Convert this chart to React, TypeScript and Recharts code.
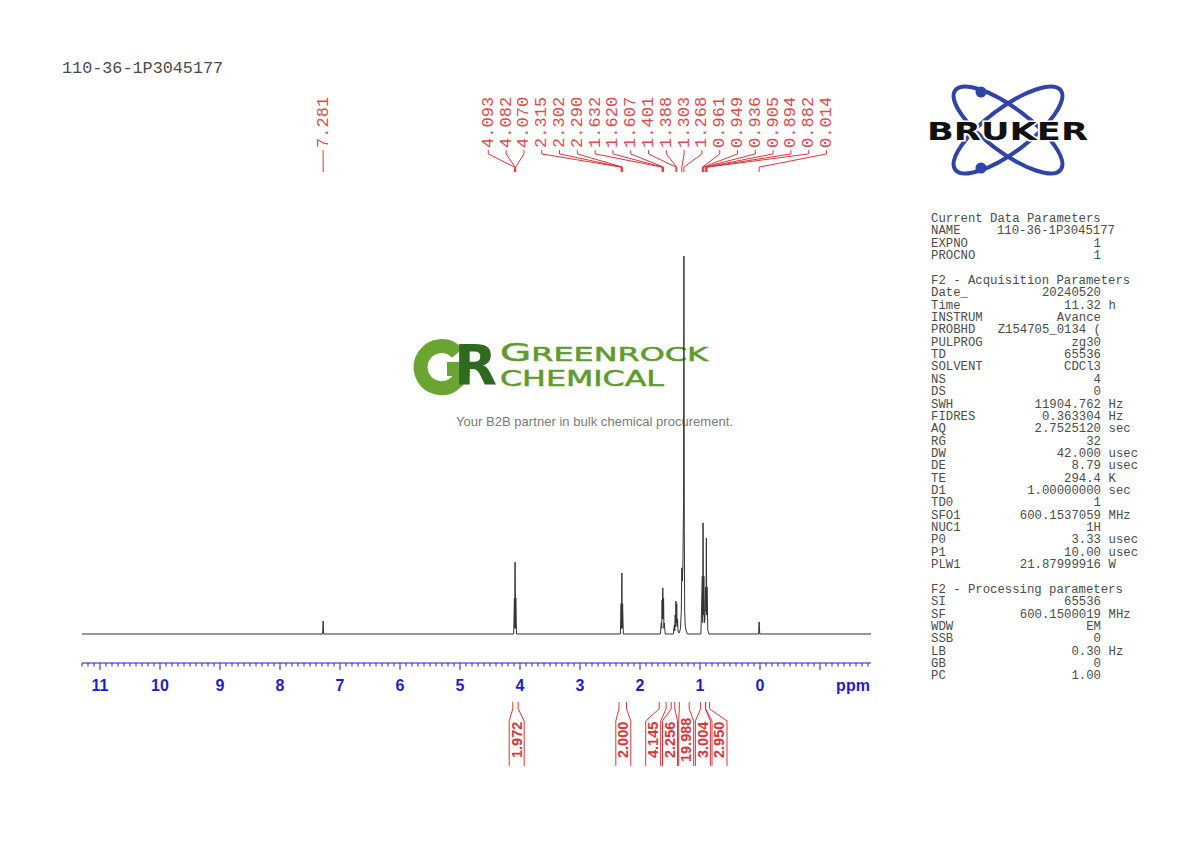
import React from 'react';
import { LineChart, Line, XAxis, YAxis, ReferenceLine, ReferenceDot } from 'recharts';

// spectrum: [ppm, relative intensity] (tallest line = 100)
const spectrum: [number, number][] = [
  [11.3, 0],
  [7.29, 0], [7.281, 3.4], [7.272, 0],
  [4.105, 0], [4.093, 9.5], [4.088, 1.5], [4.082, 19.0], [4.076, 1.5], [4.07, 9.5], [4.058, 0],
  [2.327, 0], [2.315, 8.0], [2.309, 1.5], [2.302, 16.1], [2.296, 1.5], [2.29, 8.0], [2.278, 0],
  [1.66, 0], [1.645, 3.0], [1.638, 1.5], [1.632, 9.0], [1.626, 4.0], [1.62, 12.2], [1.614, 4.0],
  [1.607, 9.5], [1.601, 1.5], [1.595, 2.9], [1.58, 0],
  [1.445, 0], [1.427, 2.4], [1.42, 0.8], [1.414, 5.0], [1.407, 2.0], [1.401, 8.7], [1.394, 3.0],
  [1.388, 8.0], [1.382, 2.0], [1.375, 4.0], [1.365, 0.5],
  [1.345, 0.3], [1.325, 1.5], [1.312, 6.0], [1.303, 17.5], [1.295, 14.0], [1.285, 18.0], [1.274, 35.0],
  [1.268, 100], [1.262, 28.0], [1.255, 6.0], [1.245, 2.0], [1.23, 0.8], [1.21, 0],
  [0.985, 0], [0.961, 15.3], [0.955, 3.0], [0.949, 29.4], [0.943, 5.0], [0.936, 15.3], [0.925, 3.0],
  [0.918, 4.0], [0.905, 12.4], [0.9, 6.0], [0.894, 25.4], [0.888, 5.0], [0.882, 12.4], [0.87, 1.0],
  [0.85, 0],
  [0.024, 0], [0.014, 3.2], [0.004, 0],
  [-1.85, 0],
];

const peakLabels = [
  7.281, 4.093, 4.082, 4.07, 2.315, 2.302, 2.29, 1.632, 1.62, 1.607, 1.401, 1.388,
  1.303, 1.268, 0.961, 0.949, 0.936, 0.905, 0.894, 0.882, 0.014,
];

const integralValues = ['1.972', '2.000', '4.145', '2.256', '19.988', '3.004', '2.950'];
const integralFrom = [4.12, 2.35, 1.68, 1.48, 1.345, 0.99, 0.905];
const integralTo = [4.03, 2.225, 1.565, 1.42, 1.18, 0.91, 0.84];
const integralAt = [4.055, 2.278, 1.78, 1.5, 1.23, 0.952, 0.675];

const ppmTicks = Array.from({ length: 132 }, (_, i) => Math.round((11.3 - i * 0.1) * 10) / 10);

const currentParams = [
  ['NAME', '110-36-1P3045177', ''],
  ['EXPNO', '1', ''],
  ['PROCNO', '1', ''],
];
const acqParams = [
  ['Date_', '20240520', ''], ['Time', '11.32', 'h'], ['INSTRUM', 'Avance', ''],
  ['PROBHD', 'Z154705_0134 (', ''], ['PULPROG', 'zg30', ''], ['TD', '65536', ''],
  ['SOLVENT', 'CDCl3', ''], ['NS', '4', ''], ['DS', '0', ''], ['SWH', '11904.762', 'Hz'],
  ['FIDRES', '0.363304', 'Hz'], ['AQ', '2.7525120', 'sec'], ['RG', '32', ''],
  ['DW', '42.000', 'usec'], ['DE', '8.79', 'usec'], ['TE', '294.4', 'K'],
  ['D1', '1.00000000', 'sec'], ['TD0', '1', ''], ['SFO1', '600.1537059', 'MHz'],
  ['NUC1', '1H', ''], ['P0', '3.33', 'usec'], ['P1', '10.00', 'usec'], ['PLW1', '21.87999916', 'W'],
];
const procParams = [
  ['SI', '65536', ''], ['SF', '600.1500019', 'MHz'], ['WDW', 'EM', ''], ['SSB', '0', ''],
  ['LB', '0.30', 'Hz'], ['GB', '0', ''], ['PC', '1.00', ''],
];

const RED = '#d8363a';
const LABEL_RED = '#e04a4c';
const BLUE = '#1e1ec8';
const MONO = "'Liberation Mono', 'Courier New', monospace";
const SANS = "'Liberation Sans', Arial, sans-serif";

// annotation levels, in intensity units
const TXT_TOP = 128.6;
const STUB_A = 128.0;
const STUB_B = 127.0;
const DIAG_END = 123.5;
const PEAK_END = 122.2;
const INT_A = -18.0;
const INT_B = -19.8;
const INT_C = -23.0;
const INT_D = -34.9;
const INT_TXT = -28.0;
const SLOT_START = 4.528;
const SLOT_STEP = 0.2967;
const HALF = 0.125;

const data = spectrum.map(([ppm, v]) => ({ ppm, v }));

const AxisTick = (props: any) => {
  const { x, y, payload } = props;
  const v = payload.value;
  const major = Math.abs(v - Math.round(v)) < 1e-6;
  const showLabel = major && v >= 0;
  return (
    <g>
      <line x1={x} x2={x} y1={y} y2={y + (major ? 7 : 3.5)} stroke={BLUE} strokeWidth={1} />
      {showLabel && (
        <text x={x} y={y + 28} textAnchor="middle" fill={BLUE} fontFamily={SANS} fontWeight="bold" fontSize={16}>
          {Math.round(v)}
        </text>
      )}
    </g>
  );
};

const slotOf = (i: number) => (i === 0 ? peakLabels[0] : SLOT_START - (i - 1) * SLOT_STEP);

function ParamBlock({ title, rows, y0 }: { title: string; rows: string[][]; y0: number }) {
  const lh = 12.35;
  return (
    <g fontFamily={MONO} fontSize={12.3} fill="#4c4c4c">
      <text x={931} y={y0}>{title}</text>
      {rows.map((r, i) => (
        <g key={r[0]}>
          <text x={931} y={y0 + (i + 1) * lh}>{r[0]}</text>
          <text x={r[0] === 'NAME' ? 1115 : 1101} y={y0 + (i + 1) * lh} textAnchor="end" style={{ whiteSpace: 'pre' }}>
            {r[1]}
          </text>
          {r[2] && <text x={1108.5} y={y0 + (i + 1) * lh}>{r[2]}</text>}
        </g>
      ))}
    </g>
  );
}

function Decor() {
  return (
    <svg width={1190} height={842} style={{ position: 'absolute', left: 0, top: 0 }}>
      <text x={62} y={73} fontFamily={MONO} fontSize={16.8} fill="#4a4a4a">110-36-1P3045177</text>

      {/* Bruker logo */}
      <g>
        <ellipse cx={1008} cy={130} rx={66} ry={22} transform="rotate(37 1008 130)" fill="none" stroke="#3044a8" strokeWidth={4} />
        <ellipse cx={1008} cy={130} rx={66} ry={22} transform="rotate(-37 1008 130)" fill="none" stroke="#3044a8" strokeWidth={4} />
        <circle cx={981} cy={92} r={5.5} fill="#3044a8" />
        <circle cx={981} cy={168} r={5.5} fill="#3044a8" />
        <text x={927} y={140} fontFamily="'DejaVu Sans', Arial" fontWeight={900} fontSize={25} textLength={161}
          lengthAdjust="spacingAndGlyphs" fill="#111" stroke="#fff" strokeWidth={3} paintOrder="stroke">BRUKER</text>
      </g>

      <ParamBlock title="Current Data Parameters" rows={currentParams} y0={222} />
      <ParamBlock title="F2 - Acquisition Parameters" rows={acqParams} y0={284} />
      <ParamBlock title="F2 - Processing parameters" rows={procParams} y0={593} />

      {/* watermark */}
      <g>
        <path d="M 457.3 353.2 A 21 21 0 1 0 462.5 369" fill="none" stroke="#6aa531" strokeWidth={14} />
        <rect x={447} y={362} width={22.5} height={14} fill="#6aa531" />
        <text x={454} y={384} fontFamily="'DejaVu Sans', Arial" fontWeight={900} fontSize={56} fill="#2e6a20">R</text>
        <text x={500} y={361} fontFamily="'DejaVu Sans', Arial" fill="#5d9c2c" stroke="#5d9c2c" strokeWidth={0.5}
          textLength={208} lengthAdjust="spacingAndGlyphs">
          <tspan fontSize={24}>G</tspan><tspan fontSize={19}>REENROCK</tspan>
        </text>
        <text x={500} y={385.5} fontFamily="'DejaVu Sans', Arial" fontSize={20.5} fill="#5d9c2c" stroke="#5d9c2c" strokeWidth={0.5}
          textLength={164} lengthAdjust="spacingAndGlyphs">CHEMICAL</text>
        <text x={456} y={426} fontFamily={SANS} fontSize={13} fill="#7a7a7a" textLength={277}>
          Your B2B partner in bulk chemical procurement.
        </text>
      </g>
    </svg>
  );
}

export default function App() {
  return (
    <div style={{ position: 'absolute', left: 0, top: 0, width: 1190, height: 842, background: '#fff' }}>
      <Decor />
      <div style={{ position: 'absolute', left: 0, top: 0 }}>
        <LineChart width={1190} height={842} data={data} margin={{ top: 88, right: 319, bottom: 149, left: 82 }}>
          <XAxis
            type="number"
            dataKey="ppm"
            domain={[-1.85, 11.3]}
            reversed
            allowDataOverflow
            ticks={ppmTicks}
            interval={0}
            tickSize={0}
            tickMargin={0}
            tickLine={false}
            height={30}
            axisLine={{ stroke: BLUE, strokeWidth: 1 }}
            tick={(p: any) => <AxisTick {...p} />}
          />
          <YAxis hide type="number" domain={[-7.672, 144.44]} allowDataOverflow />
          <Line
            type="linear"
            dataKey="v"
            stroke="#333"
            strokeWidth={1}
            dot={false}
            activeDot={false}
            isAnimationActive={false}
          />

          {/* ppm unit label */}
          <ReferenceDot
            x={-1.55}
            y={-7.672}
            r={0}
            ifOverflow="visible"
            shape={(p: any) => (
              <text x={p.cx} y={p.cy + 28} textAnchor="middle" fill={BLUE} fontFamily={SANS} fontWeight="bold" fontSize={16}>
                ppm
              </text>
            )}
          />

          {/* peak picking labels */}
          {peakLabels.map((pk, i) => {
            const s = slotOf(i);
            return (
              <React.Fragment key={'pk' + i}>
                <ReferenceLine segment={[{ x: s, y: STUB_A }, { x: s, y: STUB_B }]} stroke={RED} ifOverflow="visible" />
                <ReferenceLine segment={[{ x: s, y: STUB_B }, { x: pk, y: DIAG_END }]} stroke={RED} ifOverflow="visible" />
                <ReferenceLine segment={[{ x: pk, y: DIAG_END }, { x: pk, y: PEAK_END }]} stroke={RED} ifOverflow="visible" />
                <ReferenceDot
                  x={s}
                  y={TXT_TOP}
                  r={0}
                  ifOverflow="visible"
                  shape={(p: any) => (
                    <text
                      x={p.cx}
                      y={p.cy}
                      transform={`rotate(-90 ${p.cx} ${p.cy})`}
                      dominantBaseline="central"
                      fill={LABEL_RED}
                      fontFamily={MONO}
                      fontSize={17}
                    >
                      {pk.toFixed(3)}
                    </text>
                  )}
                />
              </React.Fragment>
            );
          })}

          {/* integrals */}
          {integralValues.map((val, i) => {
            const a = integralFrom[i];
            const b = integralTo[i];
            const c = integralAt[i];
            return (
              <React.Fragment key={'in' + i}>
                <ReferenceLine segment={[{ x: a, y: INT_A }, { x: a, y: INT_B }]} stroke={RED} ifOverflow="visible" />
                <ReferenceLine segment={[{ x: a, y: INT_B }, { x: c + HALF, y: INT_C }]} stroke={RED} ifOverflow="visible" />
                <ReferenceLine segment={[{ x: c + HALF, y: INT_C }, { x: c + HALF, y: INT_D }]} stroke={RED} ifOverflow="visible" />
                <ReferenceLine segment={[{ x: b, y: INT_A }, { x: b, y: INT_B }]} stroke={RED} ifOverflow="visible" />
                <ReferenceLine segment={[{ x: b, y: INT_B }, { x: c - HALF, y: INT_C }]} stroke={RED} ifOverflow="visible" />
                <ReferenceLine segment={[{ x: c - HALF, y: INT_C }, { x: c - HALF, y: INT_D }]} stroke={RED} ifOverflow="visible" />
                <ReferenceDot
                  x={c}
                  y={INT_TXT}
                  r={0}
                  ifOverflow="visible"
                  shape={(p: any) => (
                    <text
                      x={p.cx}
                      y={p.cy}
                      transform={`rotate(-90 ${p.cx} ${p.cy})`}
                      textAnchor="middle"
                      dominantBaseline="central"
                      fill={RED}
                      fontFamily={SANS}
                      fontWeight="bold"
                      fontSize={14.5}
                    >
                      {val}
                    </text>
                  )}
                />
              </React.Fragment>
            );
          })}
        </LineChart>
      </div>
    </div>
  );
}
